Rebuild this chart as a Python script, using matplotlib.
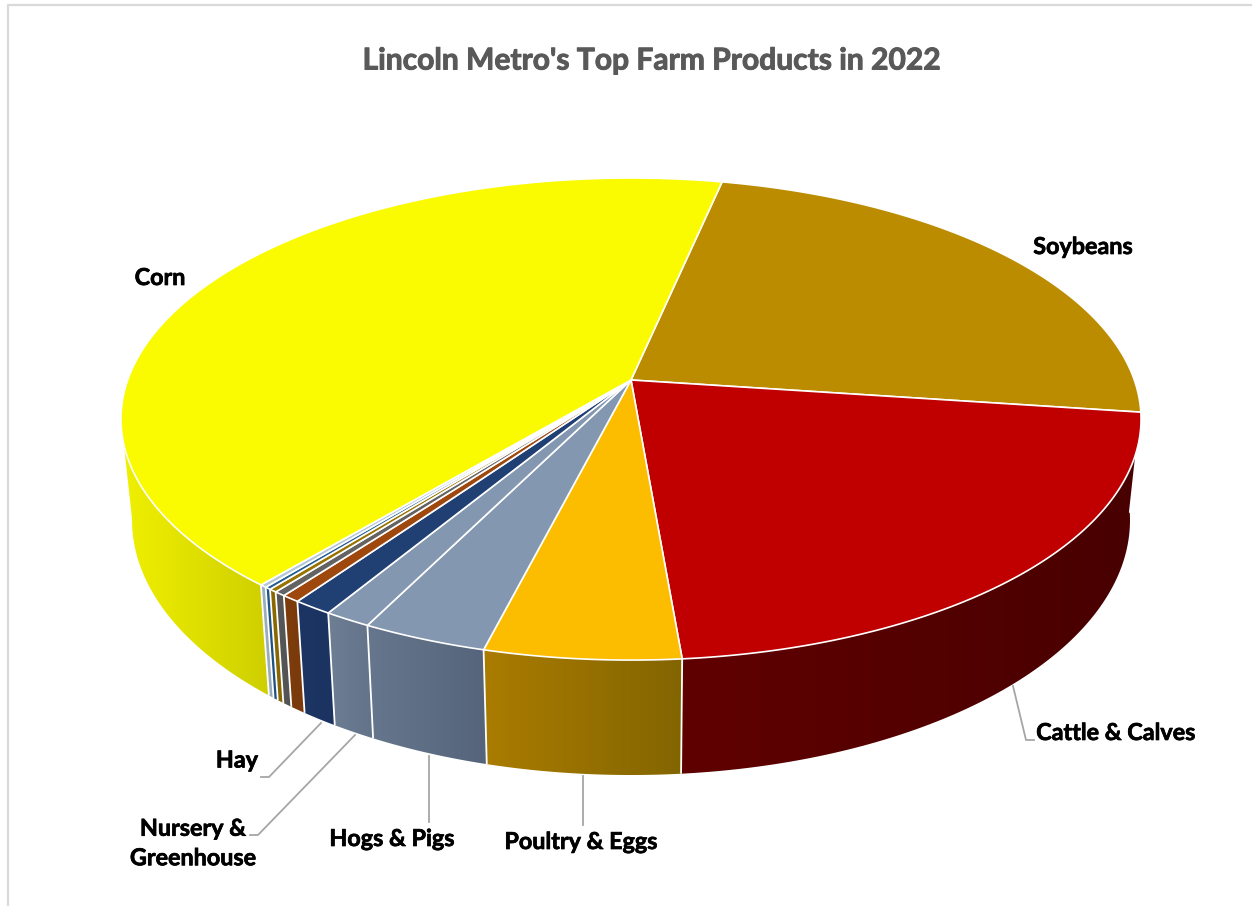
"""Pizza 3D com os principais produtos agricolas de Lincoln Metro em 2022."""
import matplotlib
matplotlib.use("Agg")
import matplotlib.pyplot as plt
import matplotlib.patheffects as pe
import numpy as np
from matplotlib.colors import to_rgb
from matplotlib.patches import Polygon

plt.rcParams["font.family"] = ["Lato", "DejaVu Sans"]

# participacao de cada produto (%), em sentido horario a partir da soja
produtos = ["Soybeans", "Cattle & Calves", "Poultry & Eggs", "Hogs & Pigs",
            "Nursery &\nGreenhouse", "Hay", "", "", "", "", "", "Corn"]
participacao = [23.78, 21.50, 5.33, 3.42, 1.28, 1.08, 0.50, 0.31, 0.22, 0.17, 0.19, 42.22]

cores_topo = ["#BC8C00", "#C00000", "#FCBD00", "#8497B0", "#8497B0", "#203F73",
              "#9E480E", "#636363", "#997300", "#255E91", "#B4C7D6", "#FAFA00"]
cores_lado_esq = ["#6E5200", "#600000", "#AA7C00", "#66778D", "#6E7E93", "#1C3564",
                  "#7E3C0C", "#585858", "#8C6900", "#1F5588", "#9DB0BF", "#F0F000"]
cores_lado_dir = ["#6E5200", "#480000", "#836500", "#55647A", "#62738A", "#1A3360",
                  "#7A3A0B", "#525252", "#876500", "#1D5080", "#97AABA", "#CFCF00"]

ANGULO_INICIAL = 12.1  # graus, sentido horario a partir do topo

# geometria da projecao em perspectiva (em pixels)
CX, CY = 631.0, 380.0
A, B, K = 503.3, 234.7, 0.162
A_BASE, B_BASE, CY_BASE = 492.4, 248.3, 478.7
VISIVEL_DE, VISIVEL_ATE = 97.7, 261.0  # trecho da parede voltado para a frente


def topo(theta):
    t = np.radians(theta)
    u, v = np.sin(t), np.cos(t)
    return CX + A * u / (1 + K * v), CY - B * v / (1 + K * v)


def base(theta):
    t = np.radians(theta)
    u, v = np.sin(t), np.cos(t)
    return CX + A_BASE * u / (1 + K * v), CY_BASE - B_BASE * v / (1 + K * v)


def grade(a0, a1):
    return np.linspace(a0, a1, max(int(abs(a1 - a0) * 4), 2))


fig = plt.figure(figsize=(12.52, 9.06), dpi=100)
ax = fig.add_axes([0, 0, 1, 1])

limites = ANGULO_INICIAL + np.concatenate([[0], np.cumsum(participacao)]) * 3.6

# paredes laterais com degrade horizontal
for i in range(len(participacao)):
    a0 = max(limites[i], VISIVEL_DE)
    a1 = min(limites[i + 1], VISIVEL_ATE)
    if a1 <= a0:
        continue
    th = grade(a0, a1)
    xt, yt = topo(th)
    xb, yb = base(th)
    contorno = np.column_stack([np.r_[xt, xb[::-1]], np.r_[yt, yb[::-1]]])
    degrade = np.linspace(to_rgb(cores_lado_esq[i]), to_rgb(cores_lado_dir[i]), 64)
    img = ax.imshow(degrade[None, :, :], aspect="auto", interpolation="bilinear",
                    extent=(contorno[:, 0].min(), contorno[:, 0].max(),
                            contorno[:, 1].max(), contorno[:, 1].min()), zorder=1)
    img.set_clip_path(Polygon(contorno, closed=True, transform=ax.transData))

# arestas verticais entre as fatias
for a in limites:
    if VISIVEL_DE < a < VISIVEL_ATE:
        xt, yt = topo(a)
        xb, yb = base(a)
        ax.plot([xt, xb], [yt, yb], color="white", lw=1.3, zorder=2, solid_capstyle="butt")

# face superior
for i, cor in enumerate(cores_topo):
    xt, yt = topo(grade(limites[i], limites[i + 1]))
    pts = np.column_stack([np.r_[CX, xt], np.r_[CY, yt]])
    ax.add_patch(Polygon(pts, closed=True, facecolor=cor, edgecolor="white", lw=1.2,
                         joinstyle="round", zorder=3))

# linhas de chamada
chamadas = [
    ([1013, 1026, 1034], [686, 740, 740]),
    ([583, 583], [776, 825]),
    ([429, 429], [756, 822]),
    ([355, 258, 250], [735, 835, 835]),
    ([321, 269, 261], [723, 777, 777]),
]
for xs, ys in chamadas:
    ax.plot(xs, ys, color="#A6A6A6", lw=1.3, zorder=2)

posicoes = {
    "Soybeans": (1083, 247.5),
    "Cattle & Calves": (1116, 733.5),
    "Poultry & Eggs": (581, 842.5),
    "Hogs & Pigs": (392, 839.5),
    "Nursery &\nGreenhouse": (193, 844),
    "Hay": (237, 761),
    "Corn": (160, 278.5),
}
for nome in produtos:
    if nome:
        x, y = posicoes[nome]
        t = ax.text(x, y, nome, ha="center", va="center", fontsize=16.8, fontweight="bold",
                    color="black", linespacing=1.5, zorder=5)
        t.set_path_effects([pe.withStroke(linewidth=0.5, foreground="black")])

titulo = ax.text(651.5, 60.5, "Lincoln Metro's Top Farm Products in 2022", ha="center",
                 va="center", fontsize=21.6, fontweight="bold", color="#595959", zorder=5)
titulo.set_path_effects([pe.withStroke(linewidth=0.7, foreground="#595959")])

# moldura do grafico (so topo e esquerda aparecem)
ax.plot([8, 8, 1252], [906, 5, 5], color="#D9D9D9", lw=1.6, zorder=0)

ax.set_xlim(0, 1252)
ax.set_ylim(906, 0)
ax.axis("off")
fig.savefig("out.png", dpi=100)
plt.close(fig)
